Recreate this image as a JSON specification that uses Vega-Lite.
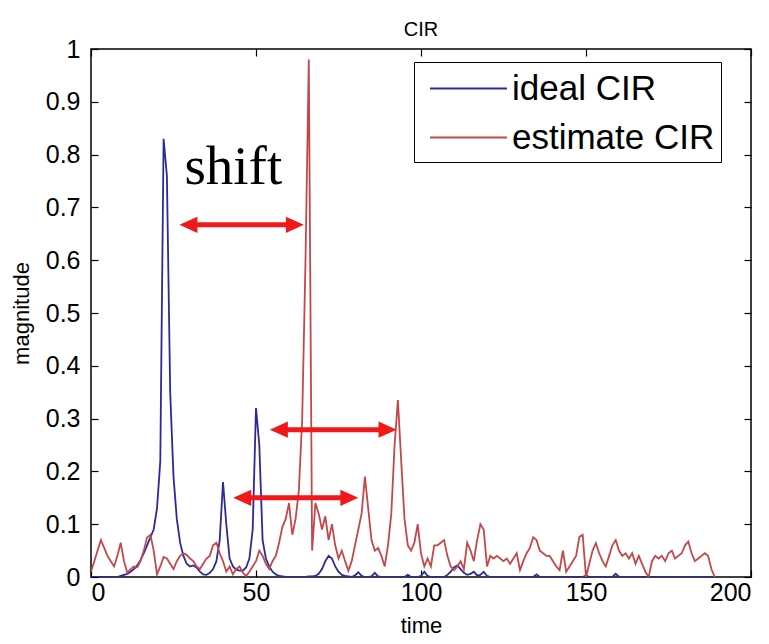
{
  "$schema": "https://vega.github.io/schema/vega-lite/v6.json",
  "width": 660,
  "height": 528,
  "autosize": {"type": "none"},
  "padding": {"left": 91, "top": 49, "right": 18, "bottom": 67},
  "background": "white",
  "title": {"text": "CIR", "fontSize": 20, "font": "Liberation Sans", "fontWeight": "normal", "color": "black", "offset": -3},
  "datasets": {
    "cir": [
      {"time":0,"ideal CIR":0,"estimate CIR":0.01},{"time":1,"ideal CIR":0,"estimate CIR":0.03},{"time":2,"ideal CIR":0,"estimate CIR":0.05},{"time":3,"ideal CIR":0,"estimate CIR":0.07},{"time":4,"ideal CIR":0,"estimate CIR":0.055},
      {"time":5,"ideal CIR":0,"estimate CIR":0.04},{"time":6,"ideal CIR":0,"estimate CIR":0.03},{"time":7,"ideal CIR":0,"estimate CIR":0.02},{"time":8,"ideal CIR":0,"estimate CIR":0.04},{"time":9,"ideal CIR":0.002,"estimate CIR":0.065},
      {"time":10,"ideal CIR":0.004,"estimate CIR":0.03},{"time":11,"ideal CIR":0.006,"estimate CIR":0.008},{"time":12,"ideal CIR":0.01,"estimate CIR":0.015},{"time":13,"ideal CIR":0.015,"estimate CIR":0.02},{"time":14,"ideal CIR":0.022,"estimate CIR":0.018},
      {"time":15,"ideal CIR":0.032,"estimate CIR":0.03},{"time":16,"ideal CIR":0.045,"estimate CIR":0.05},{"time":17,"ideal CIR":0.06,"estimate CIR":0.075},{"time":18,"ideal CIR":0.075,"estimate CIR":0.08},{"time":19,"ideal CIR":0.09,"estimate CIR":0.05},
      {"time":20,"ideal CIR":0.13,"estimate CIR":0.005},{"time":21,"ideal CIR":0.22,"estimate CIR":0.02},{"time":22,"ideal CIR":0.83,"estimate CIR":0.038},{"time":23,"ideal CIR":0.76,"estimate CIR":0.035},{"time":24,"ideal CIR":0.35,"estimate CIR":0.025},
      {"time":25,"ideal CIR":0.19,"estimate CIR":0.015},{"time":26,"ideal CIR":0.11,"estimate CIR":0.03},{"time":27,"ideal CIR":0.065,"estimate CIR":0.04},{"time":28,"ideal CIR":0.04,"estimate CIR":0.045},{"time":29,"ideal CIR":0.025,"estimate CIR":0.042},
      {"time":30,"ideal CIR":0.02,"estimate CIR":0.035},{"time":31,"ideal CIR":0.022,"estimate CIR":0.03},{"time":32,"ideal CIR":0.018,"estimate CIR":0.02},{"time":33,"ideal CIR":0.01,"estimate CIR":0.015},{"time":34,"ideal CIR":0.005,"estimate CIR":0.025},
      {"time":35,"ideal CIR":0.004,"estimate CIR":0.035},{"time":36,"ideal CIR":0.008,"estimate CIR":0.04},{"time":37,"ideal CIR":0.015,"estimate CIR":0.06},{"time":38,"ideal CIR":0.03,"estimate CIR":0.065},{"time":39,"ideal CIR":0.07,"estimate CIR":0.045},
      {"time":40,"ideal CIR":0.18,"estimate CIR":0.03},{"time":41,"ideal CIR":0.1,"estimate CIR":0.01},{"time":42,"ideal CIR":0.035,"estimate CIR":0.02},{"time":43,"ideal CIR":0.02,"estimate CIR":0.005},{"time":44,"ideal CIR":0.014,"estimate CIR":0.015},
      {"time":45,"ideal CIR":0.012,"estimate CIR":0.02},{"time":46,"ideal CIR":0.012,"estimate CIR":0.008},{"time":47,"ideal CIR":0.018,"estimate CIR":0.002},{"time":48,"ideal CIR":0.035,"estimate CIR":0.01},{"time":49,"ideal CIR":0.09,"estimate CIR":0.02},
      {"time":50,"ideal CIR":0.32,"estimate CIR":0.03},{"time":51,"ideal CIR":0.25,"estimate CIR":0.05},{"time":52,"ideal CIR":0.07,"estimate CIR":0.04},{"time":53,"ideal CIR":0.035,"estimate CIR":0.025},{"time":54,"ideal CIR":0.02,"estimate CIR":0.015},
      {"time":55,"ideal CIR":0.01,"estimate CIR":0.03},{"time":56,"ideal CIR":0.005,"estimate CIR":0.04},{"time":57,"ideal CIR":0.002,"estimate CIR":0.065},{"time":58,"ideal CIR":0.001,"estimate CIR":0.095},{"time":59,"ideal CIR":0,"estimate CIR":0.11},
      {"time":60,"ideal CIR":0,"estimate CIR":0.14},{"time":61,"ideal CIR":0,"estimate CIR":0.08},{"time":62,"ideal CIR":0,"estimate CIR":0.11},{"time":63,"ideal CIR":0,"estimate CIR":0.165},{"time":64,"ideal CIR":0,"estimate CIR":0.3},
      {"time":65,"ideal CIR":0,"estimate CIR":0.6},{"time":66,"ideal CIR":0.001,"estimate CIR":0.98},{"time":67,"ideal CIR":0.001,"estimate CIR":0.05},{"time":68,"ideal CIR":0.002,"estimate CIR":0.14},{"time":69,"ideal CIR":0.006,"estimate CIR":0.12},
      {"time":70,"ideal CIR":0.015,"estimate CIR":0.09},{"time":71,"ideal CIR":0.03,"estimate CIR":0.115},{"time":72,"ideal CIR":0.04,"estimate CIR":0.07},{"time":73,"ideal CIR":0.035,"estimate CIR":0.1},{"time":74,"ideal CIR":0.02,"estimate CIR":0.06},
      {"time":75,"ideal CIR":0.01,"estimate CIR":0.035},{"time":76,"ideal CIR":0.004,"estimate CIR":0.05},{"time":77,"ideal CIR":0.002,"estimate CIR":0.03},{"time":78,"ideal CIR":0.001,"estimate CIR":0.012},{"time":79,"ideal CIR":0,"estimate CIR":0.03},
      {"time":80,"ideal CIR":0.003,"estimate CIR":0.06},{"time":81,"ideal CIR":0.009,"estimate CIR":0.09},{"time":82,"ideal CIR":0.002,"estimate CIR":0.12},{"time":83,"ideal CIR":0,"estimate CIR":0.19},{"time":84,"ideal CIR":0,"estimate CIR":0.13},
      {"time":85,"ideal CIR":0.001,"estimate CIR":0.07},{"time":86,"ideal CIR":0.008,"estimate CIR":0.05},{"time":87,"ideal CIR":0.001,"estimate CIR":0.055},{"time":88,"ideal CIR":0,"estimate CIR":0.04},{"time":89,"ideal CIR":0,"estimate CIR":0.02},
      {"time":90,"ideal CIR":0,"estimate CIR":0.06},{"time":91,"ideal CIR":0,"estimate CIR":0.12},{"time":92,"ideal CIR":0,"estimate CIR":0.25},{"time":93,"ideal CIR":0,"estimate CIR":0.335},{"time":94,"ideal CIR":0,"estimate CIR":0.22},
      {"time":95,"ideal CIR":0,"estimate CIR":0.11},{"time":96,"ideal CIR":0.004,"estimate CIR":0.06},{"time":97,"ideal CIR":0,"estimate CIR":0.05},{"time":98,"ideal CIR":0,"estimate CIR":0.065},{"time":99,"ideal CIR":0,"estimate CIR":0.1},
      {"time":100,"ideal CIR":0.002,"estimate CIR":0.045},{"time":101,"ideal CIR":0.01,"estimate CIR":0.02},{"time":102,"ideal CIR":0.002,"estimate CIR":0.035},{"time":103,"ideal CIR":0,"estimate CIR":0.02},{"time":104,"ideal CIR":0,"estimate CIR":0.06},
      {"time":105,"ideal CIR":0,"estimate CIR":0.06},{"time":106,"ideal CIR":0,"estimate CIR":0.065},{"time":107,"ideal CIR":0,"estimate CIR":0.07},{"time":108,"ideal CIR":0.004,"estimate CIR":0.04},{"time":109,"ideal CIR":0.01,"estimate CIR":0.02},
      {"time":110,"ideal CIR":0.018,"estimate CIR":0.013},{"time":111,"ideal CIR":0.022,"estimate CIR":0.02},{"time":112,"ideal CIR":0.015,"estimate CIR":0.03},{"time":113,"ideal CIR":0.008,"estimate CIR":0.015},{"time":114,"ideal CIR":0.004,"estimate CIR":0.065},
      {"time":115,"ideal CIR":0.006,"estimate CIR":0.05},{"time":116,"ideal CIR":0.01,"estimate CIR":0.03},{"time":117,"ideal CIR":0.003,"estimate CIR":0.07},{"time":118,"ideal CIR":0.004,"estimate CIR":0.1},{"time":119,"ideal CIR":0.01,"estimate CIR":0.09},
      {"time":120,"ideal CIR":0.002,"estimate CIR":0.02},{"time":121,"ideal CIR":0,"estimate CIR":0.04},{"time":122,"ideal CIR":0,"estimate CIR":0.035},{"time":123,"ideal CIR":0,"estimate CIR":0.04},{"time":124,"ideal CIR":0,"estimate CIR":0.035},
      {"time":125,"ideal CIR":0,"estimate CIR":0.03},{"time":126,"ideal CIR":0,"estimate CIR":0.035},{"time":127,"ideal CIR":0,"estimate CIR":0.025},{"time":128,"ideal CIR":0,"estimate CIR":0.035},{"time":129,"ideal CIR":0,"estimate CIR":0.045},
      {"time":130,"ideal CIR":0,"estimate CIR":0.013},{"time":131,"ideal CIR":0,"estimate CIR":0.03},{"time":132,"ideal CIR":0,"estimate CIR":0.045},{"time":133,"ideal CIR":0,"estimate CIR":0.055},{"time":134,"ideal CIR":0,"estimate CIR":0.075},
      {"time":135,"ideal CIR":0.005,"estimate CIR":0.07},{"time":136,"ideal CIR":0,"estimate CIR":0.05},{"time":137,"ideal CIR":0,"estimate CIR":0.045},{"time":138,"ideal CIR":0,"estimate CIR":0.04},{"time":139,"ideal CIR":0,"estimate CIR":0.04},
      {"time":140,"ideal CIR":0,"estimate CIR":0.03},{"time":141,"ideal CIR":0,"estimate CIR":0.02},{"time":142,"ideal CIR":0,"estimate CIR":0.013},{"time":143,"ideal CIR":0,"estimate CIR":0.05},{"time":144,"ideal CIR":0,"estimate CIR":0.01},
      {"time":145,"ideal CIR":0,"estimate CIR":0.02},{"time":146,"ideal CIR":0,"estimate CIR":0.03},{"time":147,"ideal CIR":0,"estimate CIR":0.04},{"time":148,"ideal CIR":0,"estimate CIR":0.076},{"time":149,"ideal CIR":0,"estimate CIR":0.08},
      {"time":150,"ideal CIR":0.003,"estimate CIR":0},{"time":151,"ideal CIR":0,"estimate CIR":0.025},{"time":152,"ideal CIR":0,"estimate CIR":0.05},{"time":153,"ideal CIR":0,"estimate CIR":0.064},{"time":154,"ideal CIR":0,"estimate CIR":0.045},
      {"time":155,"ideal CIR":0,"estimate CIR":0.03},{"time":156,"ideal CIR":0,"estimate CIR":0.02},{"time":157,"ideal CIR":0,"estimate CIR":0.04},{"time":158,"ideal CIR":0,"estimate CIR":0.06},{"time":159,"ideal CIR":0.006,"estimate CIR":0.07},
      {"time":160,"ideal CIR":0,"estimate CIR":0.05},{"time":161,"ideal CIR":0,"estimate CIR":0.04},{"time":162,"ideal CIR":0,"estimate CIR":0.045},{"time":163,"ideal CIR":0,"estimate CIR":0.035},{"time":164,"ideal CIR":0,"estimate CIR":0.045},
      {"time":165,"ideal CIR":0,"estimate CIR":0.025},{"time":166,"ideal CIR":0,"estimate CIR":0.04},{"time":167,"ideal CIR":0,"estimate CIR":0.025},{"time":168,"ideal CIR":0,"estimate CIR":0.01},{"time":169,"ideal CIR":0,"estimate CIR":0},
      {"time":170,"ideal CIR":0,"estimate CIR":0.03},{"time":171,"ideal CIR":0,"estimate CIR":0.04},{"time":172,"ideal CIR":0,"estimate CIR":0.035},{"time":173,"ideal CIR":0,"estimate CIR":0.04},{"time":174,"ideal CIR":0,"estimate CIR":0.03},
      {"time":175,"ideal CIR":0,"estimate CIR":0.045},{"time":176,"ideal CIR":0,"estimate CIR":0.05},{"time":177,"ideal CIR":0,"estimate CIR":0.035},{"time":178,"ideal CIR":0,"estimate CIR":0.04},{"time":179,"ideal CIR":0,"estimate CIR":0.045},
      {"time":180,"ideal CIR":0,"estimate CIR":0.06},{"time":181,"ideal CIR":0,"estimate CIR":0.067},{"time":182,"ideal CIR":0,"estimate CIR":0.045},{"time":183,"ideal CIR":0,"estimate CIR":0.03},{"time":184,"ideal CIR":0,"estimate CIR":0.035},
      {"time":185,"ideal CIR":0,"estimate CIR":0.04},{"time":186,"ideal CIR":0,"estimate CIR":0.045},{"time":187,"ideal CIR":0,"estimate CIR":0.04},{"time":188,"ideal CIR":0,"estimate CIR":0.015},{"time":189,"ideal CIR":0,"estimate CIR":0}
    ],
    "arrows": [
      {"start": 26.8, "end": 64.5, "level": 0.667},
      {"start": 54.2, "end": 92.6, "level": 0.279},
      {"start": 43.1, "end": 81.0, "level": 0.15}
    ],
    "note": [{"time": 28.3, "magnitude": 0.745, "text": "shift"}]
  },
  "resolve": {"axis": {"x": "independent", "y": "independent"}},
  "layer": [
    {
      "data": {"name": "cir"},
      "transform": [{"fold": ["ideal CIR", "estimate CIR"], "as": ["series", "magnitude"]}],
      "mark": {"type": "line", "strokeWidth": 1.8, "clip": true},
      "encoding": {
        "x": {"field": "time", "type": "quantitative", "scale": {"domain": [0, 200], "nice": false},
              "axis": {"title": "time", "values": [0, 50, 100, 150, 200], "titlePadding": 10}},
        "y": {"field": "magnitude", "type": "quantitative", "scale": {"domain": [0, 1], "nice": false},
              "axis": {"title": "magnitude", "values": [0, 0.1, 0.2, 0.3, 0.4, 0.5, 0.6, 0.7, 0.8, 0.9, 1], "format": ".1~f", "labelPadding": 18, "titlePadding": 12}},
        "color": {"field": "series", "type": "nominal",
                  "scale": {"domain": ["ideal CIR", "estimate CIR"], "range": ["#2a2a9c", "#c4474a"]},
                  "legend": {"orient": "none", "legendX": 323, "legendY": 13, "title": null,
                             "symbolType": "M-2,0L2,0", "symbolSize": 1482, "symbolStrokeWidth": 2,
                             "labelFontSize": 35, "labelFont": "Liberation Sans, Arial, sans-serif", "labelColor": "black",
                             "strokeColor": "black", "fillColor": "white", "padding": 6, "symbolOffset": 28,
                             "labelOffset": 23, "rowPadding": 10, "labelLimit": 400}},
        "order": {"field": "series", "sort": "descending"}
      }
    },
    {
      "data": {"name": "arrows"},
      "mark": {"type": "rule", "color": "#f01818", "strokeWidth": 5, "xOffset": 10, "x2Offset": -10},
      "encoding": {
        "x": {"field": "start", "type": "quantitative", "axis": {"orient": "top", "labels": false, "title": null, "values": [0, 50, 100, 150, 200]}},
        "x2": {"field": "end"},
        "y": {"field": "level", "type": "quantitative", "axis": {"orient": "right", "labels": false, "title": null, "values": [0, 0.1, 0.2, 0.3, 0.4, 0.5, 0.6, 0.7, 0.8, 0.9, 1]}}
      }
    },
    {
      "data": {"name": "arrows"},
      "mark": {"type": "point", "filled": true, "color": "#f01818", "opacity": 1, "size": 324, "shape": "M-1,0L1,-0.9L1,0.9Z", "xOffset": 9},
      "encoding": {
        "x": {"field": "start", "type": "quantitative", "axis": null},
        "y": {"field": "level", "type": "quantitative", "axis": null}
      }
    },
    {
      "data": {"name": "arrows"},
      "mark": {"type": "point", "filled": true, "color": "#f01818", "opacity": 1, "size": 324, "shape": "M1,0L-1,-0.9L-1,0.9Z", "xOffset": -9},
      "encoding": {
        "x": {"field": "end", "type": "quantitative", "axis": null},
        "y": {"field": "level", "type": "quantitative", "axis": null}
      }
    },
    {
      "data": {"name": "note"},
      "mark": {"type": "text", "font": "Liberation Serif, Times New Roman, serif", "fontSize": 55, "align": "left", "baseline": "alphabetic", "color": "black"},
      "encoding": {
        "x": {"field": "time", "type": "quantitative", "axis": null},
        "y": {"field": "magnitude", "type": "quantitative", "axis": null},
        "text": {"field": "text"}
      }
    }
  ],
  "config": {
    "view": {"stroke": "black", "strokeWidth": 1.5},
    "axis": {
      "domain": false, "grid": false, "ticks": true, "tickColor": "black", "tickSize": -7, "tickWidth": 1.2,
      "labelFont": "Liberation Sans", "labelFontSize": 25, "labelColor": "black",
      "labelPadding": 10,
      "titleFont": "Liberation Sans", "titleFontSize": 22, "titleFontWeight": "normal", "titleColor": "black"
    }
  }
}
